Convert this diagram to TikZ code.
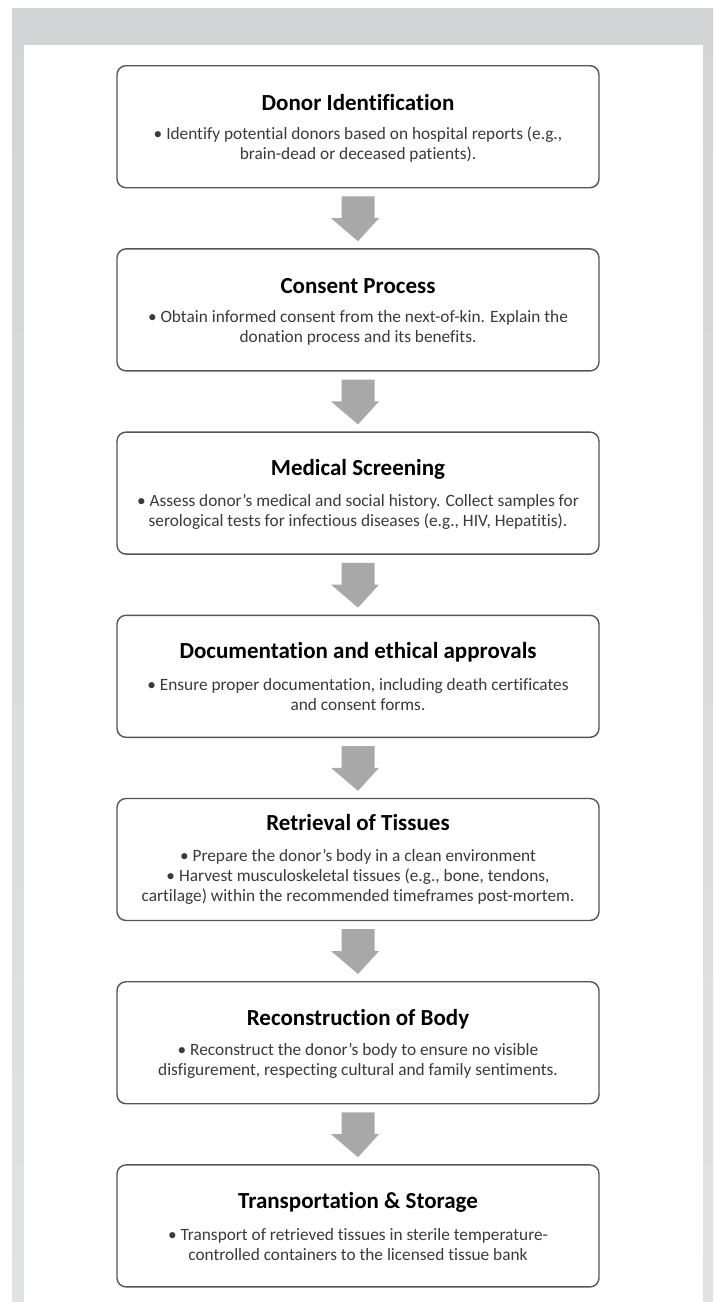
\documentclass[tikz,border=0pt]{standalone}
\usepackage{fontspec}
\setmainfont{Carlito}[Ligatures=NoCommon]
\usetikzlibrary{calc}
\definecolor{bgtop}{HTML}{D3D4D6}
\definecolor{bgbot}{HTML}{E1E2E4}
\definecolor{boxline}{HTML}{555555}
\definecolor{arrowgrey}{HTML}{A8A8A8}
\definecolor{bodytext}{HTML}{3A3A3A}
\begin{document}
\begin{tikzpicture}[x=1pt,y=1pt,
 stepbox/.style={draw=boxline, line width=1.4pt, rounded corners=9pt, fill=white, minimum width=482pt, minimum height=122pt, inner sep=0pt, anchor=north},
 steptitle/.style={font=\fontsize{23}{28}\selectfont\bfseries, text=black, inner sep=0pt},
 stepbody/.style={font=\fontsize{17.3}{20}\selectfont, text=bodytext, align=center, inner sep=0pt},
 flowarrow/.style={fill=arrowgrey}]
\useasboundingbox (0,0) rectangle (713,-1302);
\fill[white] (0,0) rectangle (713,-1302);
\shade[top color=bgtop,bottom color=bgbot] (12,-8) rectangle (713,-1302);
\fill[white] (24,-45) rectangle (703,-1302);

\node[stepbox] (b1) at (358,-65) {};
\node[steptitle] (t1) at ($(b1.north)+(0,-38)$) {Donor Identification};
\node[stepbody] (d1) at ($(b1.north)+(0,-80)$) {• Identify potential donors based on hospital reports (e.g.,\\brain-dead or deceased patients).};

\node[stepbox] (b2) at (358,-248.2) {};
\node[steptitle] (t2) at ($(b2.north)+(0,-38)$) {Consent Process};
\node[stepbody] (d2) at ($(b2.north)+(0,-80)$) {• Obtain informed consent from the next-of-kin. Explain the\\donation process and its benefits.};

\node[stepbox] (b3) at (358,-431.4) {};
\node[steptitle] (t3) at ($(b3.north)+(0,-38)$) {Medical Screening};
\node[stepbody] (d3) at ($(b3.north)+(0,-80)$) {• Assess donor’s medical and social history. Collect samples for\\serological tests for infectious diseases (e.g., HIV, Hepatitis).};

\node[stepbox] (b4) at (358,-614.6) {};
\node[steptitle] (t4) at ($(b4.north)+(0,-38)$) {Documentation and ethical approvals};
\node[stepbody] (d4) at ($(b4.north)+(0,-80)$) {• Ensure proper documentation, including death certificates\\and consent forms.};

\node[stepbox] (b5) at (358,-797.8) {};
\node[steptitle] (t5) at ($(b5.north)+(0,-25)$) {Retrieval of Tissues};
\node[stepbody] (d5) at ($(b5.north)+(0,-79)$) {• Prepare the donor's body in a clean environment\\• Harvest musculoskeletal tissues (e.g., bone, tendons,\\cartilage) within the recommended timeframes post-mortem.};

\node[stepbox] (b6) at (358,-981) {};
\node[steptitle] (t6) at ($(b6.north)+(0,-38)$) {Reconstruction of Body};
\node[stepbody] (d6) at ($(b6.north)+(0,-80)$) {• Reconstruct the donor's body to ensure no visible\\disfigurement, respecting cultural and family sentiments.};

\node[stepbox] (b7) at (358,-1164.2) {};
\node[steptitle] (t7) at ($(b7.north)+(0,-38)$) {Transportation \& Storage};
\node[stepbody] (d7) at ($(b7.north)+(0,-80)$) {• Transport of retrieved tissues in sterile temperature-\\controlled containers to the licensed tissue bank};

\foreach \a/\b in {b1/b2,b2/b3,b3/b4,b4/b5,b5/b6,b6/b7}{
  \coordinate (tip) at ($(\b.north)+(0,7)$);
  \fill[flowarrow] ($(\a.south)+(-16.5,-8)$) -- ++(33,0) |- ($(tip)+(10.5,23)$) -- ++(10.5,0) -- (tip) -- ($(tip)+(-27,23)$) -- ++(10.5,0) -- cycle;
}
\end{tikzpicture}
\end{document}
